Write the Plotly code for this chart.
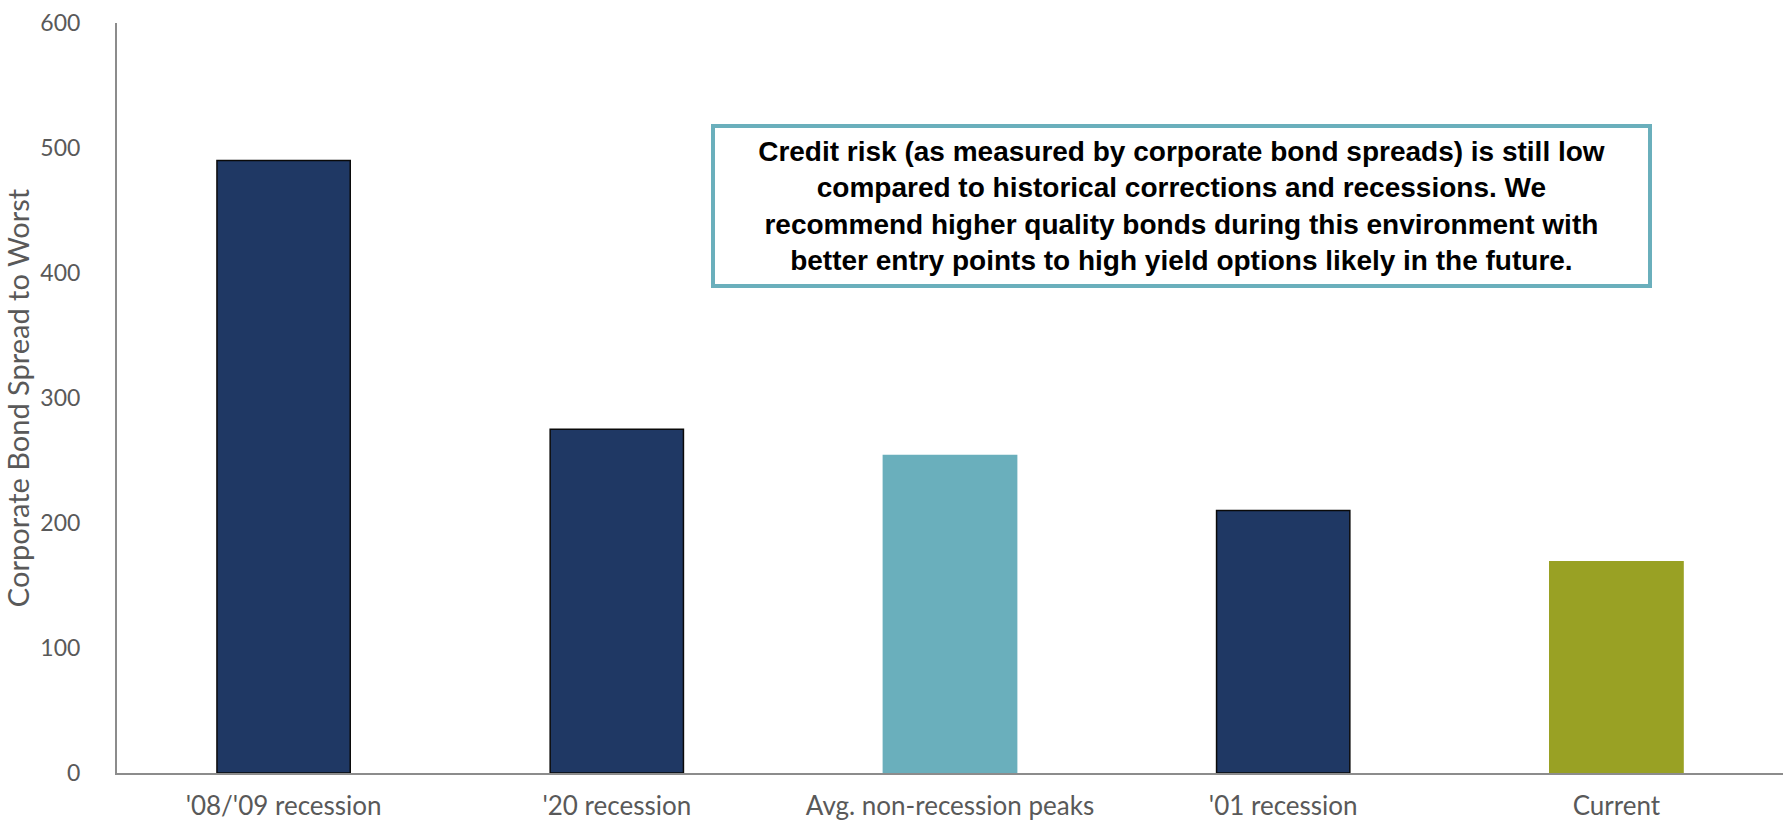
import plotly.graph_objects as go

categories = ["'08/'09 recession", "'20 recession", "Avg. non-recession peaks", "'01 recession", "Current"]
values = [490, 275, 254, 210, 169]
bar_colors = ["#1F3864", "#1F3864", "#6AAFBC", "#1F3864", "#99A124"]
line_colors = ["#0A0A0A", "#0A0A0A", "#6AAFBC", "#0A0A0A", "#99A124"]

note_lines = [
    "Credit risk (as measured by corporate bond spreads) is still low",
    "compared to historical corrections and recessions. We",
    "recommend higher quality bonds during this environment with",
    "better entry points to high yield options likely in the future.",
]

fig = go.Figure(go.Bar(
    x=categories, y=values, width=0.4,
    marker=dict(color=bar_colors, line=dict(color=line_colors, width=1.5)),
))

fig.update_layout(
    width=1783, height=822,
    margin=dict(l=117, r=0, t=23, b=49),
    paper_bgcolor="white", plot_bgcolor="white",
    showlegend=False,
    font=dict(family="Lato, Liberation Sans, sans-serif", color="#595959"),
    xaxis=dict(showline=True, linecolor="#8C8C8C", linewidth=2, ticks="",
               tickfont=dict(size=26, color="#595959"), showgrid=False,
               ticklabelstandoff=9),
    yaxis=dict(range=[0, 600], dtick=100, showline=True, linecolor="#8C8C8C", linewidth=2,
               showgrid=False, zeroline=False, ticks="", ticklabelstandoff=30,
               tickfont=dict(size=23, color="#595959"),
               title=dict(text="Corporate Bond Spread to Worst", font=dict(size=29, color="#595959"), standoff=10)),
    annotations=[dict(
        xref="paper", yref="paper", x=0.639, y=0.756, xanchor="center", yanchor="middle",
        text="<br>".join(note_lines), showarrow=False, align="center",
        width=921, height=144,
        font=dict(family="Liberation Sans, Arial, sans-serif", size=28, color="black", weight="bold"),
        bordercolor="#6AAFBC", borderwidth=4, borderpad=6, bgcolor="white",
    )],
)

fig.write_html("out.html")
